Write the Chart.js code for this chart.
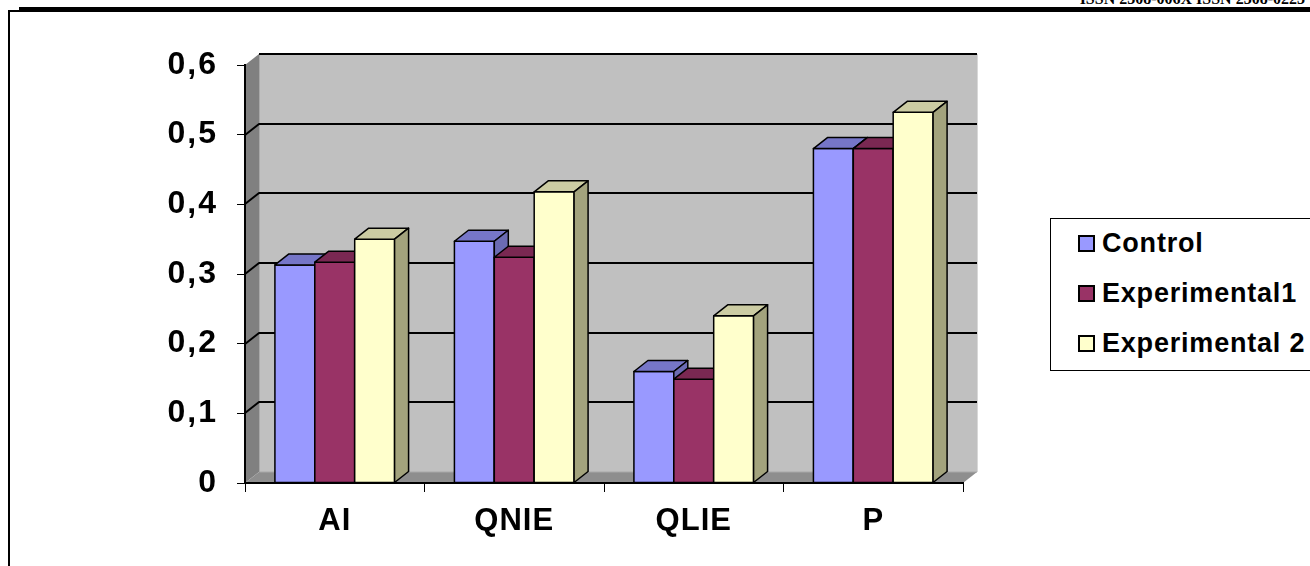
<!DOCTYPE html>
<html>
<head>
<meta charset="utf-8">
<script src="https://cdn.jsdelivr.net/npm/chart.js@4/dist/chart.umd.min.js"></script>
<style>
  html, body { margin: 0; padding: 0; background: #fff; width: 1310px; height: 566px; overflow: hidden; }
  #page { position: absolute; left: 0; top: 0; width: 1310px; height: 566px; }
  #chart { position: absolute; left: 0; top: 0; }
  .issn { position: absolute; right: 5px; top: -10px; font: bold 16px "Liberation Serif", "DejaVu Serif", serif; color: #000; white-space: nowrap; }
  .rule-thick { position: absolute; left: 19px; top: 7px; width: 1291px; height: 5px; background: #000; }
  .rule-thin { position: absolute; left: 8px; top: 10px; width: 12px; height: 2px; background: #000; }
  .rule-left { position: absolute; left: 8px; top: 10px; width: 2px; height: 556px; background: #000; }
  #legend { position: absolute; left: 1050px; top: 218px; width: 280px; height: 151px; border: 1px solid #000; background: #fff; }
  .item { position: absolute; left: 27px; height: 30px; display: flex; align-items: center;
          font: bold 27px "Liberation Sans", Arial, sans-serif; letter-spacing: 0.8px; color: #000; white-space: nowrap; }
  .swatch { width: 13px; height: 13px; border: 2px solid #000; margin-right: 7px; box-sizing: content-box; }
</style>
</head>
<body>
<div id="page">
  <div class="issn">ISSN 2308-006X ISSN 2308-0223</div>
  <div class="rule-thick"></div>
  <div class="rule-thin"></div>
  <div class="rule-left"></div>
  <canvas id="chart" width="1310" height="566"></canvas>
  <div id="legend"></div>
</div>
<script>
// Indicator groups along the horizontal axis
const categories = ['AI', 'QNIE', 'QLIE', 'P'];

// Series names
const seriesNames = ['Control', 'Experimental1', 'Experimental 2'];

// Series values per indicator
const controlValues = [0.313, 0.347, 0.160, 0.480];
const experimental1Values = [0.317, 0.324, 0.149, 0.480];
const experimental2Values = [0.350, 0.418, 0.240, 0.532];

// Value-axis tick labels (decimal comma)
const yTickLabels = ['0', '0,1', '0,2', '0,3', '0,4', '0,5', '0,6'];

// Face colours for the 3D columns: front, top, side
const faceColors = [
  { front: '#9999FF', top: '#7676C8', side: '#6B6BB3' },
  { front: '#993366', top: '#7A2852', side: '#6B2347' },
  { front: '#FFFFCC', top: '#CCCCA3', side: '#A3A37D' }
];

// Depth offset of the 3D box (pixels towards the back wall)
const DEPTH_X = 14;
const DEPTH_Y = -11;

const xFont = { family: '"Liberation Sans", Arial, sans-serif', size: 31, weight: 'bold' };
const yFont = { family: '"Liberation Sans", Arial, sans-serif', size: 32, weight: 'bold' };

function poly(ctx, pts, fill) {
  ctx.beginPath();
  ctx.moveTo(pts[0][0], pts[0][1]);
  for (let i = 1; i < pts.length; i++) ctx.lineTo(pts[i][0], pts[i][1]);
  ctx.closePath();
  ctx.fillStyle = fill;
  ctx.fill();
  ctx.stroke();
}

// Wider tracking for the axis labels
function spaceLabels(scale, spacing) {
  if (scale._spaced) return;
  const drawLabels = scale.drawLabels;
  scale.drawLabels = function (area) {
    const ctx = this.ctx;
    const prev = ctx.letterSpacing;
    ctx.letterSpacing = spacing;
    drawLabels.call(this, area);
    ctx.letterSpacing = prev || '0px';
  };
  scale._spaced = true;
}

const walls3d = {
  id: 'walls3d',
  beforeDraw(chart) {
    const { ctx, chartArea: { left, right, top, bottom }, scales: { x, y } } = chart;
    spaceLabels(x, '1px');
    spaceLabels(y, '2px');
    ctx.save();
    ctx.lineJoin = 'round';
    // back wall
    ctx.fillStyle = '#C0C0C0';
    ctx.fillRect(left + DEPTH_X, top + DEPTH_Y, right - left, bottom - top);
    // left side wall
    ctx.strokeStyle = 'rgba(0,0,0,0)';
    ctx.lineWidth = 0;
    poly(ctx, [[left, top], [left + DEPTH_X, top + DEPTH_Y], [left + DEPTH_X, bottom + DEPTH_Y], [left, bottom]], '#808080');
    // floor
    poly(ctx, [[left, bottom], [left + DEPTH_X, bottom + DEPTH_Y], [right + DEPTH_X, bottom + DEPTH_Y], [right, bottom]], '#8E8E8E');
    // light inner edges of the back wall
    ctx.strokeStyle = '#A8A8A8';
    ctx.lineWidth = 1;
    ctx.beginPath();
    ctx.moveTo(left + DEPTH_X + 0.5, top + DEPTH_Y);
    ctx.lineTo(left + DEPTH_X + 0.5, bottom + DEPTH_Y);
    ctx.lineTo(right + DEPTH_X, bottom + DEPTH_Y);
    ctx.stroke();
    ctx.strokeStyle = '#D8D8D8';
    ctx.beginPath();
    ctx.moveTo(right + DEPTH_X + 0.5, top + DEPTH_Y);
    ctx.lineTo(right + DEPTH_X + 0.5, bottom + DEPTH_Y);
    ctx.stroke();
    // gridlines: diagonal on the side wall, horizontal on the back wall
    ctx.strokeStyle = '#000';
    ctx.lineWidth = 2;
    y.ticks.forEach((t) => {
      if (t.value <= 0) return;
      const py = Math.round(y.getPixelForValue(t.value));
      ctx.beginPath();
      if (t.value < 0.6) {
        ctx.moveTo(left, py);
        ctx.lineTo(left + DEPTH_X, py + DEPTH_Y);
      } else {
        ctx.moveTo(left + DEPTH_X, py + DEPTH_Y);
      }
      ctx.lineTo(right + DEPTH_X, py + DEPTH_Y);
      ctx.stroke();
    });
    ctx.restore();
  },
  afterDatasetsDraw(chart) {
    const { ctx } = chart;
    ctx.save();
    ctx.strokeStyle = '#000';
    ctx.lineWidth = 1.5;
    ctx.lineJoin = 'round';
    const n = chart.data.labels.length;
    for (let i = 0; i < n; i++) {
      chart.data.datasets.forEach((ds, d) => {
        const bar = chart.getDatasetMeta(d).data[i];
        const c = faceColors[d];
        const x0 = bar.x - bar.width / 2;
        const x1 = bar.x + bar.width / 2;
        const yt = bar.y;
        const yb = bar.base;
        // front face
        poly(ctx, [[x0, yt], [x1, yt], [x1, yb], [x0, yb]], c.front);
        // top face
        poly(ctx, [[x0, yt], [x0 + DEPTH_X, yt + DEPTH_Y], [x1 + DEPTH_X, yt + DEPTH_Y], [x1, yt]], c.top);
        // right side face
        poly(ctx, [[x1, yt], [x1 + DEPTH_X, yt + DEPTH_Y], [x1 + DEPTH_X, yb + DEPTH_Y], [x1, yb]], c.side);
      });
    }
    ctx.restore();
  }
};

const seriesValues = [controlValues, experimental1Values, experimental2Values];

new Chart(document.getElementById('chart'), {
  type: 'bar',
  data: {
    labels: categories,
    datasets: seriesNames.map((name, d) => ({
      label: name,
      data: seriesValues[d],
      backgroundColor: 'rgba(0,0,0,0)',
      borderWidth: 0,
      categoryPercentage: 2 / 3,
      barPercentage: 1
    }))
  },
  options: {
    responsive: false,
    animation: false,
    events: [],
    layout: { padding: { top: 65, right: 347, left: 0, bottom: 0 } },
    plugins: { legend: { display: false }, tooltip: { enabled: false } },
    scales: {
      x: {
        offset: true,
        grid: { display: true, drawOnChartArea: false, offset: true, tickLength: 9, color: '#000', lineWidth: 1 },
        border: { display: true, color: '#000', width: 2 },
        ticks: { color: '#000', font: xFont, padding: 11, maxRotation: 0 },
        afterFit(scale) { scale.height = 83; }
      },
      y: {
        min: 0,
        max: 0.6,
        grid: { display: true, drawOnChartArea: false, tickLength: 8, color: '#000', lineWidth: 1 },
        border: { display: true, color: '#000', width: 2 },
        ticks: {
          stepSize: 0.1,
          color: '#000',
          font: yFont,
          padding: 19,
          callback: (v) => yTickLabels[Math.round(v * 10)]
        },
        afterFit(scale) { scale.width = 245; }
      }
    }
  },
  plugins: [walls3d]
});

// Legend box
const legend = document.getElementById('legend');
seriesNames.forEach((name, d) => {
  const item = document.createElement('div');
  item.className = 'item';
  item.style.top = (9 + d * 50) + 'px';
  const sw = document.createElement('span');
  sw.className = 'swatch';
  sw.style.background = faceColors[d].front;
  const tx = document.createElement('span');
  tx.textContent = name;
  item.appendChild(sw);
  item.appendChild(tx);
  legend.appendChild(item);
});
</script>
</body>
</html>
